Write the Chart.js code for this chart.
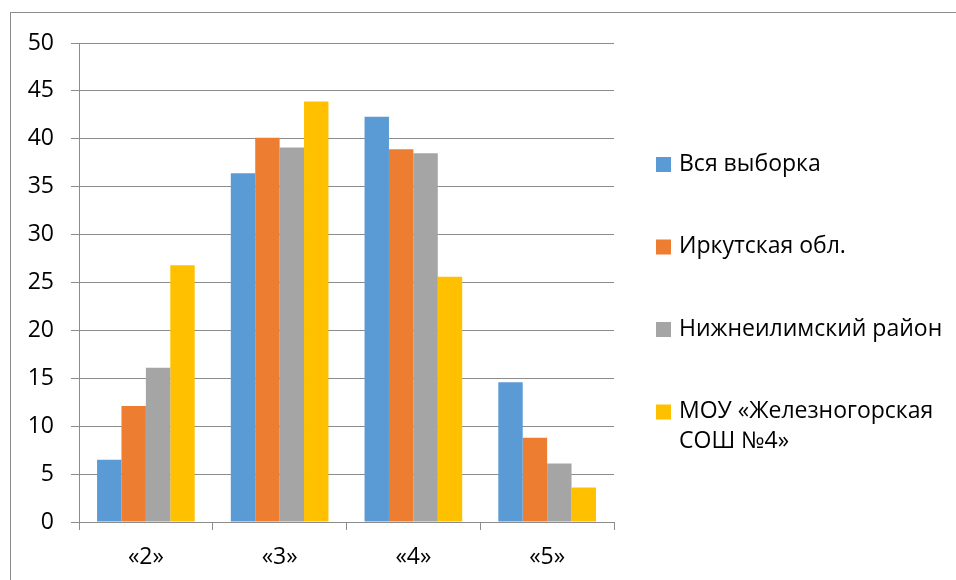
<!DOCTYPE html>
<html>
<head>
<meta charset="utf-8">
<script src="https://cdn.jsdelivr.net/npm/chart.js@4/dist/chart.umd.min.js"></script>
<style>
  html, body { margin: 0; padding: 0; background: #fff; }
  #wrap { position: relative; width: 956px; height: 580px; }
  #frame { position: absolute; left: 10px; top: 12px; width: 960px; height: 600px; border: 1px solid #8c8c8c; box-sizing: border-box; }
  canvas { display: block; }
</style>
</head>
<body>
<div id="wrap">
  <div id="frame"></div>
  <canvas id="c" width="956" height="580"></canvas>
</div>
<script>
// data
const categories = ['«2»', '«3»', '«4»', '«5»'];
const seriesNames = ['Вся выборка', 'Иркутская обл.', 'Нижнеилимский район', 'МОУ «Железногорская СОШ №4»'];
const allSample = [6.5, 36.4, 42.3, 14.6];
const irkutsk = [12.1, 40.1, 38.9, 8.8];
const nizhneilimsk = [16.1, 39.1, 38.5, 6.1];
const school4 = [26.8, 43.9, 25.6, 3.6];
const seriesColors = ['#5B9BD5', '#ED7D31', '#A5A5A5', '#FFC000'];
const yTicks = [0, 5, 10, 15, 20, 25, 30, 35, 40, 45, 50];

const FONT = '"Open Sans", "DejaVu Sans", sans-serif';
const FONT_SIZE = 23;

// legend on the right, with word wrap like the original
const sideLegend = {
  id: 'sideLegend',
  afterDraw(chart) {
    const ctx = chart.ctx;
    const boxX = 656, textX = 679, maxW = 956 - textX - 4;
    const startY = 164, step = 82.5, lineH = 30;
    ctx.save();
    ctx.font = FONT_SIZE + 'px ' + FONT;
    ctx.textBaseline = 'middle';
    chart.data.datasets.forEach((ds, i) => {
      const y = startY + i * step;
      ctx.fillStyle = ds.backgroundColor;
      ctx.fillRect(boxX, y - 7, 15, 15);
      ctx.fillStyle = '#000';
      // wrap words
      const words = ds.label.split(' ');
      const lines = [];
      let cur = '';
      words.forEach(w => {
        const test = cur ? cur + ' ' + w : w;
        if (ctx.measureText(test).width > maxW && cur) { lines.push(cur); cur = w; }
        else cur = test;
      });
      if (cur) lines.push(cur);
      lines.forEach((ln, k) => ctx.fillText(ln, textX, y + k * lineH));
    });
    ctx.restore();
  }
};

const datasets = [allSample, irkutsk, nizhneilimsk, school4].map((d, i) => ({
  label: seriesNames[i],
  data: d,
  backgroundColor: seriesColors[i],
  borderWidth: 0,
  barPercentage: 1.0,
  categoryPercentage: 0.73,
}));

new Chart(document.getElementById('c'), {
  type: 'bar',
  data: { labels: categories, datasets },
  options: {
    responsive: false,
    animation: false,
    layout: { padding: { left: 10, right: 342, top: 43, bottom: 0 } },
    plugins: { legend: { display: false }, tooltip: { enabled: false } },
    scales: {
      x: {
        afterFit: (scale) => { scale.height = 58; },
        grid: { display: true, drawOnChartArea: false, offset: true, tickLength: 8, color: '#8c8c8c' },
        border: { display: true, color: '#8c8c8c' },
        ticks: { color: '#000', padding: 14, font: { family: FONT, size: FONT_SIZE } },
      },
      y: {
        min: 0, max: 50,
        afterBuildTicks: (scale) => { scale.ticks = yTicks.map(v => ({ value: v })); },
        afterFit: (scale) => { scale.width = 69; },
        grid: { color: '#8c8c8c', tickLength: 8 },
        border: { display: true, color: '#8c8c8c' },
        ticks: { color: '#000', padding: 17, font: { family: FONT, size: FONT_SIZE } },
      },
    },
  },
  plugins: [sideLegend],
});
</script>
</body>
</html>
